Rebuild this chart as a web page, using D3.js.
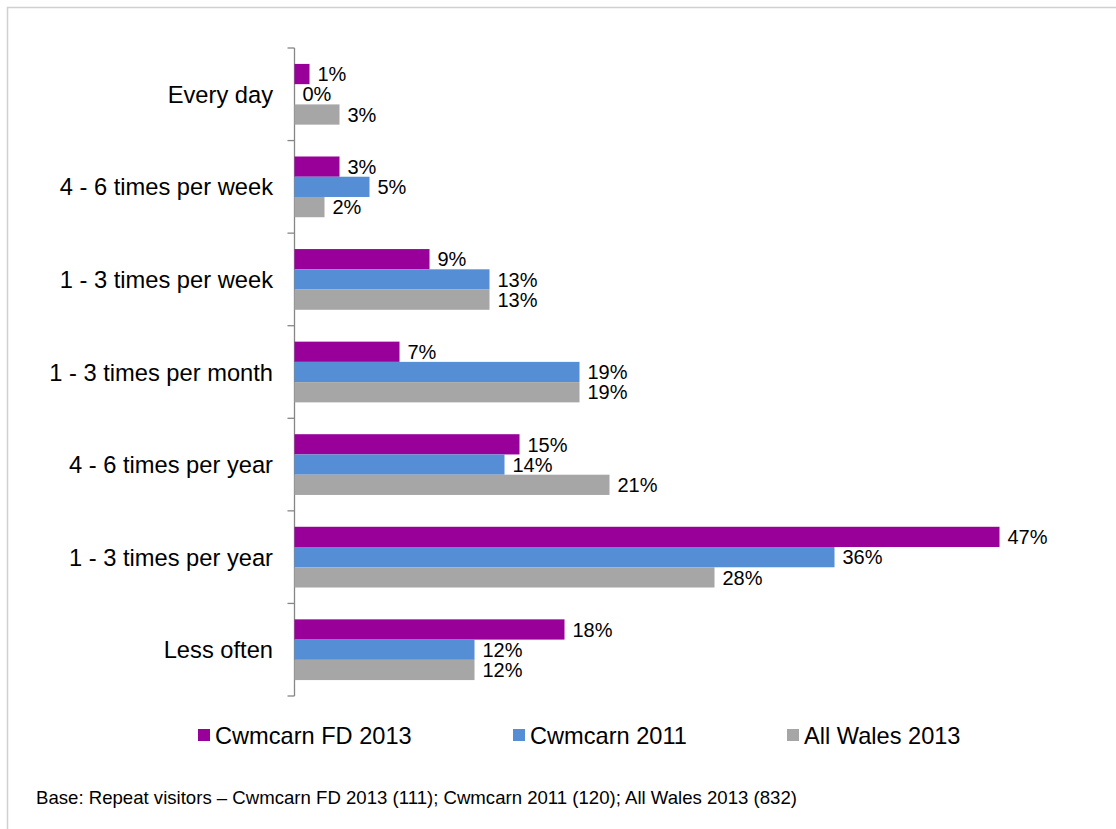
<!DOCTYPE html>
<html>
<head>
<meta charset="utf-8">
<script src="https://cdn.jsdelivr.net/npm/d3@7"></script>
<style>
  body { margin: 0; background: #fff; }
  text { font-family: Arial, "Liberation Sans", sans-serif; fill: #000; }
</style>
</head>
<body>
<div id="chart"></div>
<script>
const categories = ['Every day', '4 - 6 times per week', '1 - 3 times per week', '1 - 3 times per month',
                    '4 - 6 times per year', '1 - 3 times per year', 'Less often'];
const seriesNames = ['Cwmcarn FD 2013', 'Cwmcarn 2011', 'All Wales 2013'];
const cwmcarnFD2013 = [1, 3, 9, 7, 15, 47, 18];
const cwmcarn2011   = [0, 5, 13, 19, 14, 36, 12];
const allWales2013  = [3, 2, 13, 19, 21, 28, 12];
const colours = ['#990099', '#558ED5', '#A6A6A6'];
const footnote = 'Base: Repeat visitors \u2013 Cwmcarn FD 2013 (111); Cwmcarn 2011 (120); All Wales 2013 (832)';

const width = 1116, height = 829;
const series = [cwmcarnFD2013, cwmcarn2011, allWales2013];

const rows = categories.map((c, i) => ({
  category: c,
  values: seriesNames.map((s, j) => ({ key: s, value: series[j][i], colour: colours[j] }))
}));

const svg = d3.select('#chart').append('svg')
  .attr('width', width)
  .attr('height', height);

// chart border (runs off the page to the right and bottom)
svg.append('rect')
  .attr('x', 7.5).attr('y', 7.5)
  .attr('width', 1130).attr('height', 840)
  .attr('fill', 'none')
  .attr('stroke', '#d0d0d0')
  .attr('stroke-width', 1.5);

const x = d3.scaleLinear().domain([0, 50]).range([294.5, 1044.5]);
const y = d3.scaleBand().domain(categories).range([48, 696]);
const inner = d3.scaleBand().domain(seriesNames)
  .range([y.bandwidth() * 0.172, y.bandwidth() * 0.828]);

// category axis: line plus ticks between the categories
const axis = svg.append('g').attr('id', 'axis');
axis.append('line')
  .attr('x1', x(0)).attr('x2', x(0))
  .attr('y1', y.range()[0]).attr('y2', y.range()[1])
  .attr('stroke', '#868686').attr('stroke-width', 1.3);

const boundaries = categories.map(c => y(c)).concat([y.range()[1]]);
axis.selectAll('line.tick')
  .data(boundaries)
  .join('line')
  .attr('class', 'tick')
  .attr('x1', x(0) - 7).attr('x2', x(0))
  .attr('y1', d => d).attr('y2', d => d)
  .attr('stroke', '#868686').attr('stroke-width', 1.3);

axis.selectAll('text')
  .data(categories)
  .join('text')
  .attr('x', 273)
  .attr('y', d => y(d) + y.bandwidth() / 2)
  .attr('dy', '0.36em')
  .attr('text-anchor', 'end')
  .attr('font-size', 23.7)
  .text(d => d);

// bars
const groups = svg.append('g').attr('id', 'bars')
  .selectAll('g')
  .data(rows)
  .join('g')
  .attr('transform', d => `translate(0,${y(d.category)})`);

groups.selectAll('rect')
  .data(d => d.values)
  .join('rect')
  .attr('x', x(0))
  .attr('y', d => inner(d.key))
  .attr('width', d => x(d.value) - x(0))
  .attr('height', inner.bandwidth())
  .attr('fill', d => d.colour);

groups.selectAll('text')
  .data(d => d.values)
  .join('text')
  .attr('x', d => x(d.value) + 8)
  .attr('y', d => inner(d.key) + inner.bandwidth() / 2)
  .attr('dy', '0.36em')
  .attr('font-size', 20)
  .text(d => d.value + '%');

// legend
const legendX = [198, 513, 787];
const legend = svg.append('g').attr('id', 'legend')
  .selectAll('g')
  .data(seriesNames)
  .join('g')
  .attr('transform', (d, i) => `translate(${legendX[i]},735)`);

legend.append('rect')
  .attr('x', 0).attr('y', -6)
  .attr('width', 12).attr('height', 12)
  .attr('fill', (d, i) => colours[i]);

legend.append('text')
  .attr('x', 17)
  .attr('dy', '0.36em')
  .attr('font-size', 23.6)
  .text(d => d);

svg.append('text')
  .attr('x', 36)
  .attr('y', 804)
  .attr('font-size', 18.6)
  .text(footnote);
</script>
</body>
</html>
